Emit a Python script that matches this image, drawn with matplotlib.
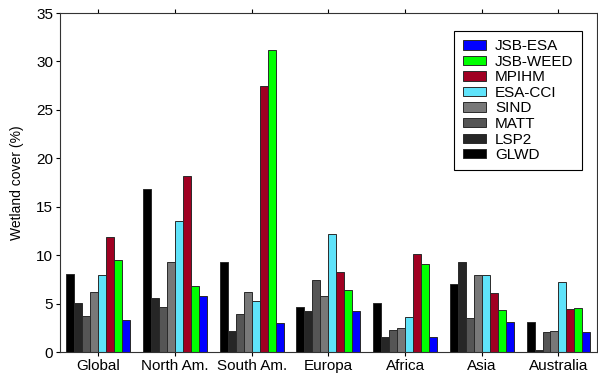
import matplotlib
matplotlib.use('Agg')
import numpy as np
import matplotlib.pyplot as plt

plt.rcParams['font.family'] = ['Liberation Sans', 'DejaVu Sans']

regions = ['Global', 'North Am.', 'South Am.', 'Europa', 'Africa', 'Asia', 'Australia']

# series, in drawing order (left to right within a group)
glwd     = [8.1, 16.8, 9.3, 4.6, 5.1, 7.0, 3.1]
lsp2     = [5.1, 5.6, 2.2, 4.2, 1.5, 9.3, 0.25]
matt     = [3.7, 4.6, 3.9, 7.4, 2.3, 3.5, 2.1]
sind     = [6.2, 9.3, 6.2, 5.8, 2.5, 7.9, 2.2]
esa_cci  = [7.9, 13.5, 5.3, 12.2, 3.6, 8.0, 7.2]
mpihm    = [11.9, 18.2, 27.5, 8.3, 10.1, 6.1, 4.4]
jsb_weed = [9.5, 6.8, 31.2, 6.4, 9.1, 4.3, 4.5]
jsb_esa  = [3.3, 5.8, 3.0, 4.2, 1.6, 3.1, 2.1]

series = [glwd, lsp2, matt, sind, esa_cci, mpihm, jsb_weed, jsb_esa]
names = ['GLWD', 'LSP2', 'MATT', 'SIND', 'ESA-CCI', 'MPIHM', 'JSB-WEED', 'JSB-ESA']
colors = ['#000000', '#262626', '#555555', '#787878', '#5fe3fa', '#a00022', '#00ff00', '#0000ff']

fig = plt.figure(figsize=(5.98, 3.75), dpi=100)
ax = fig.add_axes([0.1003, 0.0613, 0.8977, 0.904])

x = np.arange(1, len(regions) + 1)
w = 0.104
handles = []
for i, (vals, name, c) in enumerate(zip(series, names, colors)):
    b = ax.bar(x + (i - 3.5) * w, vals, width=w, color=c, edgecolor='#2a2a2a',
               linewidth=0.7, label=name)
    handles.append(b)

ax.set_xlim(0.5, 7.5)
ax.set_ylim(0, 35)
ax.set_xticks(x)
ax.set_xticklabels(regions, fontsize=11)
ax.set_yticks(np.arange(0, 36, 5))
ax.tick_params(axis='y', labelsize=11, direction='out', length=3, pad=2)
ax.tick_params(axis='x', direction='out', length=3, top=True, pad=2)
ax.set_ylabel('Wetland cover (%)', fontsize=10, labelpad=9)
for s in ax.spines.values():
    s.set_linewidth(0.8)
    s.set_color('#333333')

leg = ax.legend(handles[::-1], names[::-1], loc='upper right',
                bbox_to_anchor=(0.972, 0.947), borderaxespad=0,
                fancybox=False, edgecolor='black', fontsize=11,
                handlelength=1.5, handleheight=0.55, labelspacing=0.1,
                handletextpad=0.6, borderpad=0.55, framealpha=1)
leg.get_frame().set_linewidth(0.8)

fig.savefig('out.png', dpi=100)
